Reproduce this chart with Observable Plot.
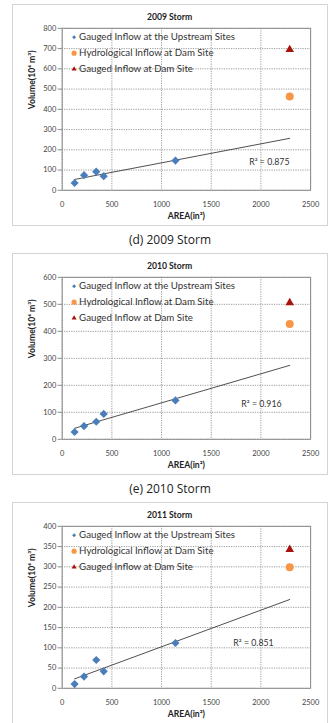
<!DOCTYPE html>
<html>
<head>
<meta charset="utf-8">
<script src="https://cdn.jsdelivr.net/npm/d3@7"></script>
<script src="https://cdn.jsdelivr.net/npm/@observablehq/plot@0.6"></script>
<style>
  body { margin: 0; background: #fff; }
  #root { position: relative; width: 329px; height: 723px; overflow: hidden; background: #fff; }
  .box { position: absolute; left: 12px; width: 316px; height: 222px; box-sizing: border-box;
         border: 1px solid #d4d4d4; background: #fff; }
  .box svg { position: absolute; left: -1px; top: -1px; }
  .caption { position: absolute; left: 0; width: 340px; text-align: center;
             font-family: "Open Sans", sans-serif; font-size: 12px; color: #222; }
</style>
</head>
<body>
<div id="root"></div>
<script>
// Drainage areas of the upstream gauges and of the dam site
const areas = [125, 220, 343, 418, 1140];
const damArea = 2290;

// Storm volumes (10^6 m^3) at the upstream gauges
const upstream2009 = [36, 75, 92, 70, 147];
const upstream2010 = [27, 49, 65, 94, 144];
const upstream2011 = [10.5, 29, 70, 42, 112];

// Volumes at the dam site, per storm (2009, 2010, 2011)
const hydroDam = [463, 427, 299];
const gaugedDam = [695, 506, 343];

const titles = ["2009 Storm", "2010 Storm", "2011 Storm"];
const captions = ["(d) 2009 Storm", "(e) 2010 Storm"];
const r2Labels = ["R\u00b2 = 0.875", "R\u00b2 = 0.916", "R\u00b2 = 0.851"];
const legendLabels = [
  "Gauged Inflow at the Upstream Sites",
  "Hydrological Inflow at Dam Site",
  "Gauged Inflow at Dam Site"
];
const xTicks = [0, 500, 1000, 1500, 2000, 2500];
const yMax = [800, 600, 400];
const yStep = [100, 100, 50];

// Layout
const boxTops = [4, 253, 502];
const captionTops = [231, 480];
const r2Pos = [{x: 2085, y: 137}, {x: 2005, y: 131}, {x: 1925, y: 112}];
const font = "Lato, 'Open Sans', sans-serif";
const blue = "#4a7ebb", orange = "#f79646", darkRed = "#a8120c";
const legendSymbols = [
  {symbol: "diamond2", fill: blue, r: 1.8},
  {symbol: "circle", fill: orange, r: 2.6},
  {symbol: "triangle", fill: darkRed, r: 1.9}
];

function fit(xs, ys) {
  const mx = d3.mean(xs), my = d3.mean(ys);
  const sxy = d3.sum(xs, (x, i) => (x - mx) * (ys[i] - my));
  const sxx = d3.sum(xs, x => (x - mx) ** 2);
  const b = sxy / sxx;
  return {b, a: my - b * mx};
}

const root = document.getElementById("root");
const upstreamSets = [upstream2009, upstream2010, upstream2011];

upstreamSets.forEach((vols, k) => {
  const pts = areas.map((x, i) => ({x, y: vols[i]}));
  const {a, b} = fit(areas, vols);
  const x0 = d3.min(areas);
  const trend = [{x: x0, y: a + b * x0}, {x: damArea, y: a + b * damArea}];
  const yTicks = d3.range(0, yMax[k] + 1, yStep[k]);

  const legendMarks = legendLabels.flatMap((label, i) => [
    Plot.dot([label], {frameAnchor: "top-left", dx: 12, dy: 9 + 16 * i, ...legendSymbols[i], stroke: "none"}),
    Plot.text([label], {frameAnchor: "top-left", dx: 17, dy: 9 + 16 * i, text: d => d,
      textAnchor: "start", lineAnchor: "middle", fontSize: 9.8, fill: "#333", fontFamily: font})
  ]);

  const chart = Plot.plot({
    width: 316, height: 222,
    marginTop: 24, marginLeft: 50, marginRight: 16, marginBottom: 35,
    style: {fontFamily: font, fontSize: "7px", color: "#444", background: "transparent", overflow: "visible"},
    x: {domain: [0, 2500], label: null},
    y: {domain: [0, yMax[k]], label: null},
    marks: [
      Plot.gridX(xTicks, {stroke: "#9a9a9a", strokeOpacity: 1, strokeDasharray: "1.2,1.2"}),
      Plot.gridY(yTicks, {stroke: "#9a9a9a", strokeOpacity: 1, strokeDasharray: "1.2,1.2"}),
      Plot.frame({stroke: "#8a8a8a"}),
      Plot.axisY(yTicks, {tickSize: 4, tickPadding: 2, stroke: "#8a8a8a", fill: "#444", fontSize: 7.5,
        tickFormat: d => String(d), label: null}),
      Plot.axisX(xTicks, {tickSize: 0, tickPadding: 11, fill: "#444", fontSize: 7.5,
        tickFormat: d => String(d), label: null}),
      Plot.line(trend, {x: "x", y: "y", stroke: "#3a3a3a", strokeWidth: 0.9}),
      Plot.dot(pts, {x: "x", y: "y", symbol: "diamond2", r: 3.7, fill: blue}),
      Plot.dot([hydroDam[k]], {x: () => damArea, y: d => d, symbol: "circle", r: 4, fill: orange}),
      Plot.dot([gaugedDam[k]], {x: () => damArea, y: d => d, symbol: "triangle", r: 3.2, fill: darkRed}),
      ...legendMarks,
      Plot.text([r2Labels[k]], {x: () => r2Pos[k].x, y: () => r2Pos[k].y, text: d => d,
        fontSize: 8.8, fill: "#333", fontFamily: font}),
      Plot.text([titles[k]], {frameAnchor: "top", dx: -17, dy: -11, text: d => d, lineAnchor: "middle",
        fontSize: 8.7, fontWeight: "bold", fill: "#222", fontFamily: font}),
      Plot.text(["AREA(in\u00b2)"], {frameAnchor: "bottom", dy: 26, text: d => d, lineAnchor: "middle",
        fontSize: 8.7, fontWeight: "bold", fill: "#222", fontFamily: font}),
      Plot.text(["Volume(10\u2076 m\u00b3)"], {frameAnchor: "left", dx: -30, rotate: -90, text: d => d,
        lineAnchor: "middle", fontSize: 8.7, fontWeight: "bold", fill: "#222", fontFamily: font})
    ]
  });

  const box = document.createElement("div");
  box.className = "box";
  box.style.top = boxTops[k] + "px";
  box.appendChild(chart);
  root.appendChild(box);

  if (captions[k]) {
    const cap = document.createElement("div");
    cap.className = "caption";
    cap.style.top = captionTops[k] + "px";
    cap.textContent = captions[k];
    root.appendChild(cap);
  }
});
</script>
</body>
</html>
